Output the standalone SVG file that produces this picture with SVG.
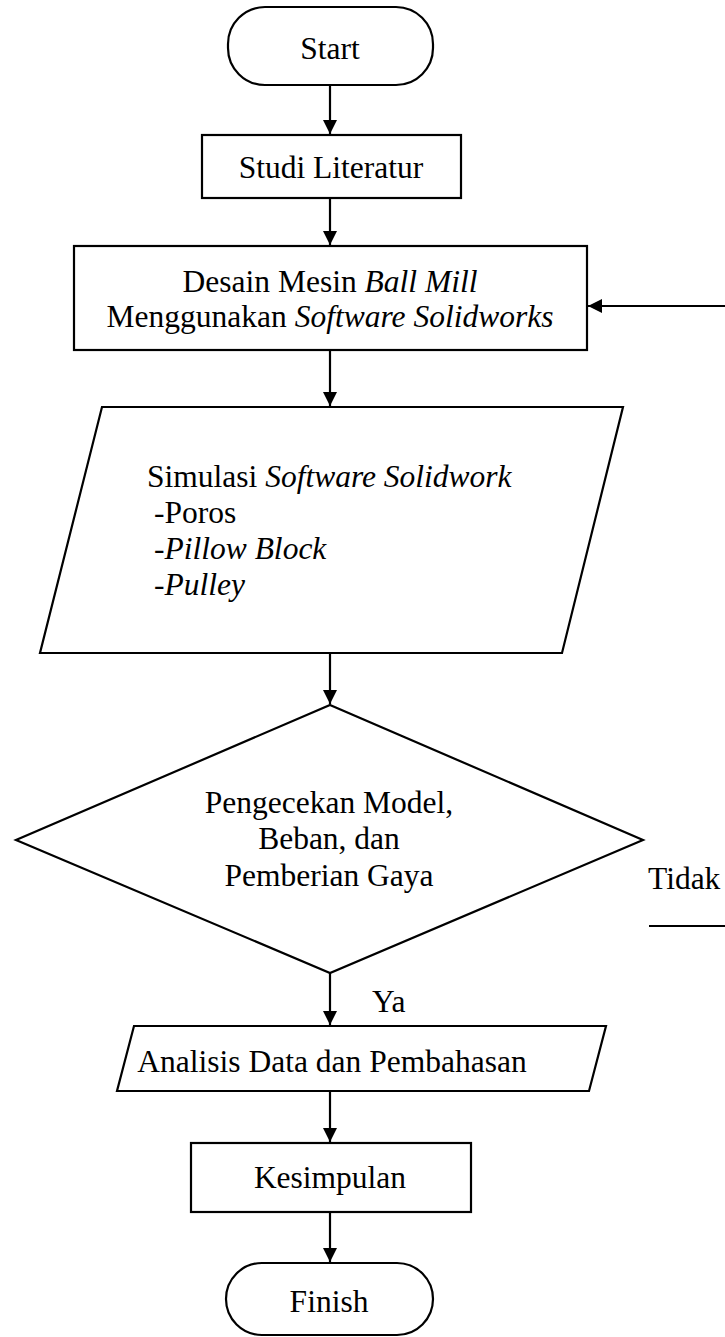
<svg xmlns="http://www.w3.org/2000/svg" width="725" height="1337" viewBox="0 0 725 1337">
<style>
.s{fill:#fff;stroke:#000;stroke-width:2.2}
.t{font-family:"Liberation Serif","Times New Roman",serif;font-size:31.5px;fill:#000}
.m{text-anchor:middle}
.i{font-style:italic}
.c{stroke:#000;stroke-width:2.2;fill:none}
</style>
<defs>
<marker id="ah" markerUnits="userSpaceOnUse" markerWidth="16" markerHeight="16" refX="14" refY="7" orient="auto">
<path d="M0,0 L14,7 L0,14 z" fill="#000"/>
</marker>
</defs>
<rect width="725" height="1337" fill="#fff"/>
<g id="start">
<rect class="s" x="228" y="7" width="205" height="78" rx="37" ry="37"/>
<text class="t m" x="330" y="59">Start</text>
</g>
<g id="studi">
<rect class="s" x="202" y="135" width="259" height="63"/>
<text class="t m" x="331" y="178">Studi Literatur</text>
</g>
<g id="desain">
<rect class="s" x="74" y="246" width="513" height="104"/>
<text class="t m" x="330" y="292">Desain Mesin <tspan class="i">Ball Mill</tspan></text>
<text class="t m" x="330" y="327">Menggunakan <tspan class="i">Software Solidworks</tspan></text>
</g>
<g id="simulasi">
<polygon class="s" points="102,407 623,407 562,653 40,653"/>
<text class="t" x="147" y="487">Simulasi <tspan class="i">Software Solidwork</tspan></text>
<text class="t" x="154" y="523">-Poros</text>
<text class="t" x="154" y="559">-<tspan class="i">Pillow Block</tspan></text>
<text class="t" x="154" y="595">-<tspan class="i">Pulley</tspan></text>
</g>
<g id="cek">
<polygon class="s" points="330,705 643,840 330,973 16,840"/>
<text class="t m" x="329" y="813">Pengecekan Model,</text>
<text class="t m" x="329" y="849">Beban, dan</text>
<text class="t m" x="329" y="886">Pemberian Gaya</text>
</g>
<g id="analisis">
<polygon class="s" points="134,1026 606,1026 589,1091 117,1091"/>
<text class="t m" x="332" y="1072">Analisis Data dan Pembahasan</text>
</g>
<g id="kesimpulan">
<rect class="s" x="191" y="1143" width="280" height="69"/>
<text class="t m" x="330" y="1188">Kesimpulan</text>
</g>
<g id="finish">
<rect class="s" x="226" y="1263" width="207" height="72" rx="36" ry="36"/>
<text class="t m" x="329" y="1312">Finish</text>
</g>
<g id="connectors">
<line class="c" x1="330" y1="85" x2="330" y2="134" marker-end="url(#ah)"/>
<line class="c" x1="330" y1="198" x2="330" y2="245" marker-end="url(#ah)"/>
<line class="c" x1="330" y1="350" x2="330" y2="406" marker-end="url(#ah)"/>
<line class="c" x1="330" y1="653" x2="330" y2="704" marker-end="url(#ah)"/>
<line class="c" x1="330" y1="973" x2="330" y2="1025" marker-end="url(#ah)"/>
<line class="c" x1="330" y1="1091" x2="330" y2="1142" marker-end="url(#ah)"/>
<line class="c" x1="330" y1="1212" x2="330" y2="1262" marker-end="url(#ah)"/>
<line class="c" x1="725" y1="306" x2="588" y2="306" marker-end="url(#ah)"/>
<line class="c" x1="649" y1="926" x2="725" y2="926"/>
<text class="t" x="372" y="1012">Ya</text>
<text class="t" x="648" y="889">Tidak</text>
</g>
</svg>
